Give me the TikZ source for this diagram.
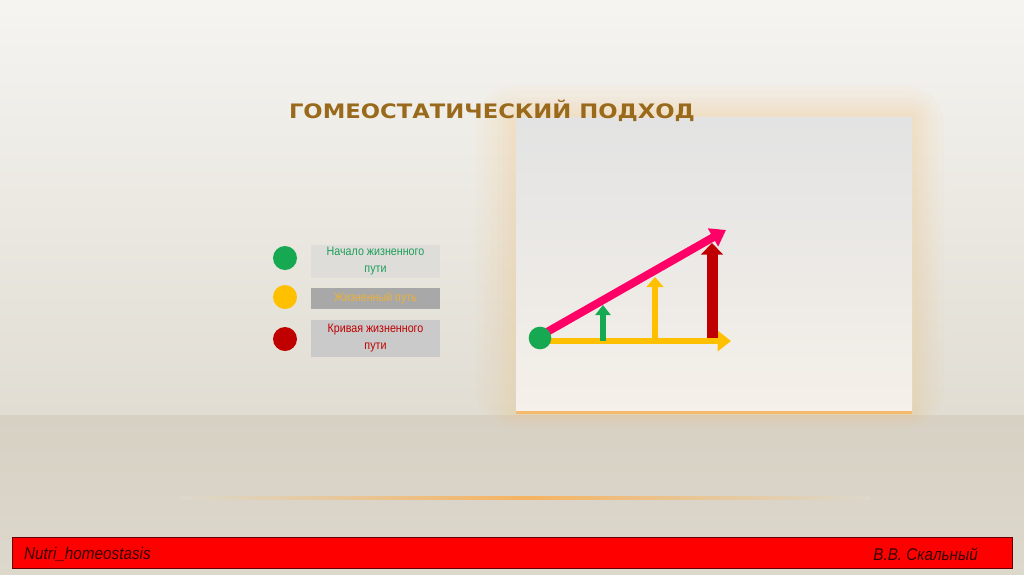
\documentclass[tikz,border=0pt]{standalone}
\usepackage{fontspec}
\setmainfont{Liberation Sans}
\newfontfamily\titlefont{DejaVu Sans}
\usetikzlibrary{arrows.meta,shadings}
\definecolor{bgtop}{HTML}{F5F4F1}
\definecolor{bgmid}{HTML}{E1DDD3}
\definecolor{bglow}{HTML}{D7D1C4}
\definecolor{bgbot}{HTML}{DCD8CB}
\definecolor{titlec}{HTML}{9A6A1C}
\definecolor{cgreen}{HTML}{17A852}
\definecolor{cyellow}{HTML}{FFC000}
\definecolor{cred}{HTML}{C00000}
\definecolor{cpink}{HTML}{FF0066}
\definecolor{tgreen}{HTML}{1E9E5A}
\definecolor{tyellow}{HTML}{EBB13A}
\definecolor{box1}{HTML}{DEDDDA}
\definecolor{box2}{HTML}{A8A8A8}
\definecolor{box3}{HTML}{CACACA}
\definecolor{glow}{HTML}{F2C98A}
\definecolor{ptop}{HTML}{E3E3E3}
\definecolor{pbot}{HTML}{F5F0E9}
\tikzset{
  dot/.style={circle,minimum size=#1,inner sep=0pt},
  legbox/.style={minimum width=3.87cm,inner sep=0pt,align=center,font=\fontsize{10.5}{14.5}\selectfont},
  foot/.style={font=\fontsize{14.5}{16}\selectfont\itshape,text=black!80!red,anchor=west},
  halo/.style={fill=glow,opacity=0.055,rounded corners=#1}
}
\newcommand{\nar}[1]{\scalebox{0.87}[1]{#1}}
\begin{document}
\begin{tikzpicture}[x=0.03cm,y=-0.03cm]
\useasboundingbox (0,0) rectangle (1024,574);
% background
\shade[top color=bgtop,bottom color=bgmid] (0,0) rectangle (1024,415);
\shade[top color=bglow,bottom color=bgbot] (0,415) rectangle (1024,574);
% warm glow behind panel
\foreach \d in {40,32,25,19,14,9,5}{
  \fill[halo=\d*0.03cm] (516-\d,117-\d*0.8) rectangle (912+\d*0.8,413+\d*0.4);
}
% glow line
\shade[left color=bgbot,right color=bgbot,middle color=glow!70!orange] (180,496) rectangle (870,499);
% panel
\shade[top color=ptop,bottom color=pbot] (516,117) rectangle (912,413);
\fill[glow!80!orange] (516,411) rectangle (912,414);
% title
\node[font=\titlefont\fontsize{17}{20}\selectfont\bfseries,text=titlec] (title) at (492,111) {\scalebox{1.14}[1]{ГОМЕОСТАТИЧЕСКИЙ ПОДХОД}};
% legend
\node[dot=0.72cm,fill=cgreen] (c1) at (285,258) {};
\node[dot=0.72cm,fill=cyellow] (c2) at (285,297) {};
\node[dot=0.72cm,fill=cred] (c3) at (285,339) {};
\node[legbox,fill=box1,minimum height=0.99cm,text=tgreen] (b1) at (375.5,261.5) {\nar{Начало жизненного}\\\nar{пути}};
\node[legbox,fill=box2,minimum height=0.63cm,text=tyellow] (b2) at (375.5,298.5) {\nar{Жизненный путь}};
\node[legbox,fill=box3,minimum height=1.11cm,text=cred] (b3) at (375.5,338.5) {\nar{Кривая жизненного}\\\nar{пути}};
% chart
\coordinate (o) at (540,341);
\coordinate (xe) at (731,341);
\coordinate (ps) at (540,336);
\coordinate (pe) at (726,230);
\coordinate (g0) at (603,341);
\coordinate (g1) at (603,305);
\coordinate (y0) at (655,341);
\coordinate (y1) at (655,277);
\coordinate (r0) at (712,338);
\coordinate (r1) at (712,243);
\draw[cyellow,line width=0.2cm,-{Triangle[length=0.4cm,width=0.6cm]}] (o) -- (xe);
\draw[cgreen,line width=0.2cm,-{Triangle[length=0.3cm,width=0.45cm]}] (g0) -- (g1);
\draw[cyellow,line width=0.2cm,-{Triangle[length=0.3cm,width=0.5cm]}] (y0) -- (y1);
\draw[cred,line width=0.33cm,-{Triangle[length=0.35cm,width=0.65cm]}] (r0) -- (r1);
\draw[cpink,line width=0.24cm,-{Triangle[length=0.45cm,width=0.6cm]}] (ps) -- (pe);
\node[dot=0.68cm,fill=cgreen] (start) at (540,338) {};
% footer
\draw[fill=red,draw=black!60!red,line width=0.8pt] (12,537) rectangle (1012,568);
\node[foot] (f1) at (20,554) {\scalebox{0.9}[1]{Nutri\_homeostasis}};
\node[foot,anchor=east] (f2) at (982,554) {\scalebox{0.9}[1]{В.В. Скальный}};
\end{tikzpicture}
\end{document}
